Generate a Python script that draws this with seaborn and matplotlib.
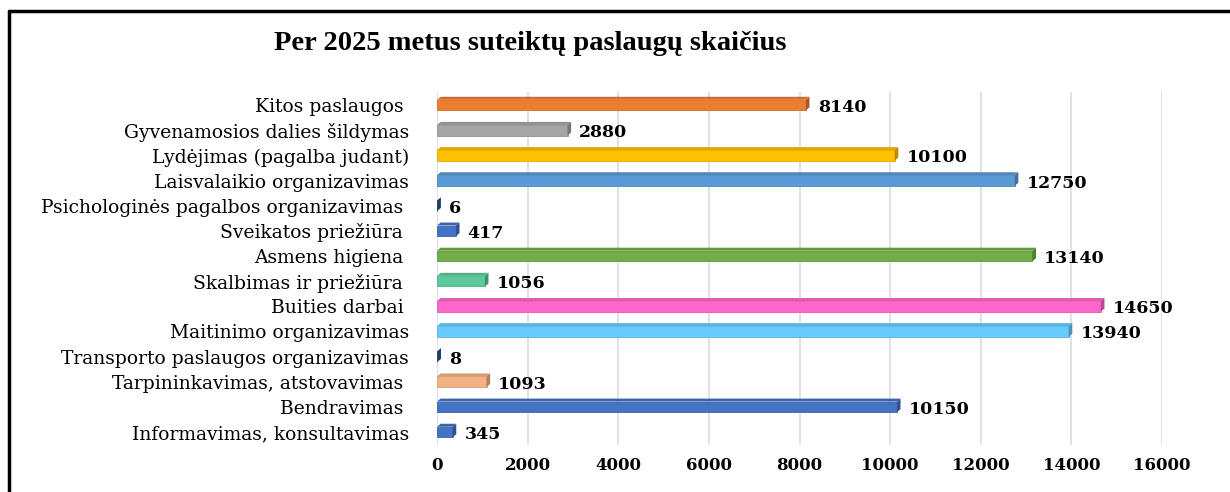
import matplotlib
matplotlib.use('Agg')
import matplotlib.pyplot as plt
import matplotlib.colors as mcolors
from matplotlib.lines import Line2D
from matplotlib.patches import Polygon
import pandas as pd
import seaborn as sns

# ── Data ───────────────────────────────────────────────────────────────────────
services = [
    'Kitos paslaugos ',
    'Gyvenamosios dalies šildymas',
    'Lydėjimas (pagalba judant)',
    'Laisvalaikio organizavimas',
    'Psichologinės pagalbos organizavimas ',
    'Sveikatos priežiūra ',
    'Asmens higiena ',
    'Skalbimas ir priežiūra ',
    'Buities darbai ',
    'Maitinimo organizavimas',
    'Transporto paslaugos organizavimas',
    'Tarpininkavimas, atstovavimas ',
    'Bendravimas ',
    'Informavimas, konsultavimas',
]
counts = [8140, 2880, 10100, 12750, 6, 417, 13140, 1056, 14650, 13940, 8, 1093, 10150, 345]
bar_colors = ['#ED7D31', '#A5A5A5', '#FFC000', '#5B9BD5', '#2F528F', '#4472C4',
              '#70AD47', '#5BCB9B', '#FF66CC', '#66CCFF', '#2F528F', '#F4B183',
              '#4472C4', '#4472C4']
x_ticks = [0, 2000, 4000, 6000, 8000, 10000, 12000, 14000, 16000]

df = pd.DataFrame({'service': services, 'count': counts})

sns.set_theme(style='white')
plt.rcParams['font.family'] = ['DejaVu Serif']
plt.rcParams['text.color'] = 'black'
plt.rcParams['xtick.color'] = 'black'
plt.rcParams['ytick.color'] = 'black'

fig = plt.figure(figsize=(12.3, 4.92), dpi=100)
ax = fig.add_axes([437 / 1230, 0.0963, (1162 - 437) / 1230, 0.812 - 0.0963])

sns.barplot(data=df, y='service', x='count', hue='service', order=services,
            hue_order=services, palette=bar_colors, orient='h', width=0.42,
            saturation=1, legend=False, ax=ax)

ax.set_xlim(0, 16000)
ax.set_ylim(len(services) - 0.5, -0.5)

# fake 3D: darker top face and end cap on each bar
dx, dy = 80, 0.12
for patch, c in zip(list(ax.patches), bar_colors):
    dark = tuple(v * 0.72 for v in mcolors.to_rgb(c))
    mid = tuple(v * 0.88 for v in mcolors.to_rgb(c))
    patch.set_edgecolor(mid)
    patch.set_linewidth(0.6)
    x0, y0 = patch.get_x(), patch.get_y()
    w, h = patch.get_width(), patch.get_height()
    x1 = x0 + w
    top = y0  # inverted y: smaller value is higher up
    bot = y0 + h
    ax.add_patch(Polygon([(x0, top), (x1, top), (x1 + dx, top - dy), (x0 + dx, top - dy)],
                         closed=True, facecolor=mid, edgecolor='none', zorder=3))
    ax.add_patch(Polygon([(x1, top), (x1, bot), (x1 + dx, bot - dy), (x1 + dx, top - dy)],
                         closed=True, facecolor=dark, edgecolor='none', zorder=3))

for i, v in enumerate(counts):
    ax.text(v + 260, i + 0.1, f'{v}', va='center', ha='left',
            fontsize=12.5, fontweight='bold', color='black')

ax.set_xticks(x_ticks)
ax.set_xticklabels([str(t) for t in x_ticks], fontsize=12, fontweight='bold')
ax.tick_params(axis='x', length=0, pad=9)
ax.tick_params(axis='y', length=0, pad=20, labelsize=13.5)
ax.set_xlabel('')
ax.set_ylabel('')
ax.xaxis.grid(True, color='#DFE2EC', linewidth=1.5)
ax.set_axisbelow(True)
for s in ax.spines.values():
    s.set_visible(False)
ax.axvline(0, color='#DFE2EC', linewidth=1.5, zorder=0)

fig.text(530 / 1230, 1 - 44 / 492, 'Per 2025 metus suteiktų paslaugų skaičius',
         ha='center', va='center', fontsize=20.5, fontweight='bold',
         family='Liberation Serif', color='black')

# outer frame of the original screenshot
fig.add_artist(Line2D([9 / 1230, 9 / 1230], [0, 1 - 11 / 492], color='black',
                      linewidth=2.5, transform=fig.transFigure))
fig.add_artist(Line2D([9 / 1230, 1], [1 - 11 / 492, 1 - 11 / 492], color='black',
                      linewidth=2.5, transform=fig.transFigure))

plt.savefig('out.png', dpi=100)
plt.close()
